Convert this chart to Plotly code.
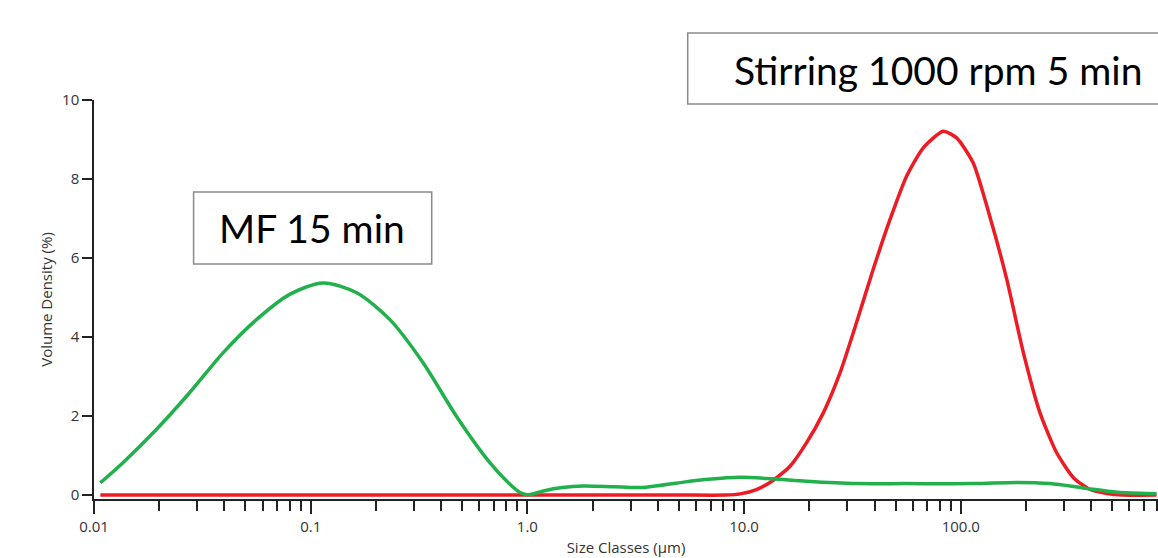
import plotly.graph_objects as go

# MF 15 min (green)
green_size = [0.0107, 0.0136, 0.0194, 0.0276, 0.0394, 0.0562, 0.080, 0.114, 0.163, 0.232,
              0.330, 0.471, 0.671, 0.80, 0.92, 1.0, 1.08, 1.2, 1.45, 1.81, 2.5, 3.36, 5.47,
              6.83, 9.6, 13.6, 19.4, 33.0, 56.0, 114.0, 181.0, 258.0, 368.0, 525.0, 721.0, 800.0]
green_vol = [0.31, 0.82, 1.66, 2.59, 3.60, 4.44, 5.08, 5.37, 5.12, 4.44,
             3.35, 1.99, 0.82, 0.36, 0.07, 0.01, 0.04, 0.11, 0.19, 0.23, 0.21, 0.19, 0.34,
             0.40, 0.45, 0.41, 0.35, 0.29, 0.29, 0.29, 0.32, 0.29, 0.18, 0.07, 0.04, 0.03]

# Stirring 1000 rpm 5 min (red)
red_size = [0.0107, 0.1, 1.0, 5.0, 8.2, 9.6, 11.4, 13.6, 16.3, 19.4, 23.2, 27.7, 33.0, 39.4,
            47.1, 56.2, 67.1, 83.0, 95.7, 114.0, 136.0, 163.0, 194.5, 232.0, 277.0,
            331.0, 395.0, 472.0, 560.0, 800.0]
red_vol = [0.0, 0.0, 0.0, 0.0, 0.0, 0.03, 0.14, 0.37, 0.73, 1.32, 2.08, 3.09, 4.36, 5.71,
           6.97, 8.07, 8.79, 9.21, 9.04, 8.41, 7.06, 5.46, 3.60, 2.08, 1.07,
           0.44, 0.14, 0.04, 0.0, 0.0]

major_ticks = [0.01, 0.1, 1.0, 10.0, 100.0]
major_labels = ["0.01", "0.1", "1.0", "10.0", "100.0"]
minor_ticks = [m * d for d in [0.01, 0.1, 1.0, 10.0, 100.0] for m in range(2, 10)]

y_ticks = [0, 2, 4, 6, 8, 10]

GREEN = "rgb(34,176,76)"
RED = "rgb(237,28,36)"

fig = go.Figure()
fig.add_trace(go.Scatter(x=red_size, y=red_vol, mode="lines",
                         line=dict(color=RED, width=3.5, shape="spline", smoothing=0.6),
                         showlegend=False))
fig.add_trace(go.Scatter(x=green_size, y=green_vol, mode="lines",
                         line=dict(color=GREEN, width=3.5, shape="spline", smoothing=0.8),
                         showlegend=False))

tick_font = dict(family="Open Sans", size=15, color="#333333")
title_font = dict(family="Open Sans", size=15, color="#333333")

fig.update_layout(
    width=1158, height=558,
    margin=dict(l=94, r=0, t=100, b=59),
    paper_bgcolor="white", plot_bgcolor="white",
    showlegend=False,
    xaxis=dict(
        type="log", range=[-2, 2.91],
        tickmode="array", tickvals=major_ticks, ticktext=major_labels,
        ticks="outside", ticklen=13, tickwidth=1.5, tickcolor="#222",
        showline=True, linecolor="#222", linewidth=1.5,
        showgrid=False, zeroline=False,
        tickfont=tick_font,
        minor=dict(tickmode="array", tickvals=minor_ticks, ticks="outside",
                   ticklen=10, tickwidth=1.5, tickcolor="#222", showgrid=False),
        title=dict(text="Size Classes (µm)", font=title_font, standoff=8),
    ),
    yaxis=dict(
        range=[-0.1, 10],
        tickmode="array", tickvals=y_ticks, ticktext=[str(v) for v in y_ticks],
        ticks="outside", ticklen=10, tickwidth=1.5, tickcolor="#222",
        showline=True, linecolor="#222", linewidth=1.5,
        showgrid=False, zeroline=False,
        tickfont=tick_font,
        title=dict(text="Volume Density (%)", font=title_font, standoff=6),
    ),
)

# Boxes
fig.add_shape(type="rect", xref="paper", yref="paper", x0=0.558, x1=1.02, y0=0.990, y1=1.168,
              line=dict(color="#8a8a8a", width=1.5), fillcolor="white", layer="above")
fig.add_shape(type="rect", xref="paper", yref="paper", x0=0.0936, x1=0.3174, y0=0.589, y1=0.7694,
              line=dict(color="#8a8a8a", width=1.5), fillcolor="white", layer="above")

fig.add_annotation(xref="paper", yref="paper", x=0.793, y=1.075, text="Stirring 1000 rpm 5 min",
                   showarrow=False, xanchor="center", yanchor="middle",
                   font=dict(family="Lato", size=39, color="black"))
fig.add_annotation(xref="paper", yref="paper", x=0.205, y=0.679, text="MF 15 min",
                   showarrow=False, xanchor="center", yanchor="middle",
                   font=dict(family="Lato", size=39, color="black"))

fig.write_html("out.html", config={"displayModeBar": False},
               post_script="document.body.style.margin='0';document.body.style.overflow='hidden';")
